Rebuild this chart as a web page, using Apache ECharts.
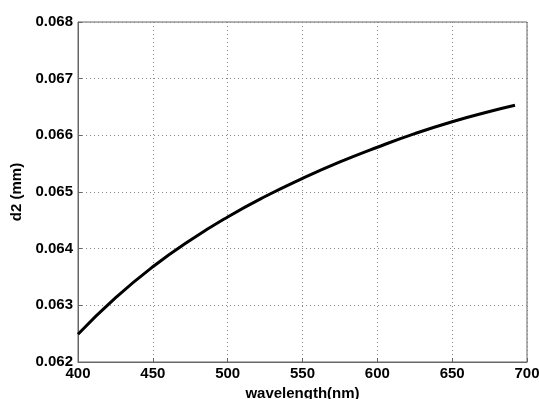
<!DOCTYPE html>
<html><head><meta charset="utf-8">
<script src="https://cdn.jsdelivr.net/npm/echarts@6/dist/echarts.min.js"></script>
<style>html,body{margin:0;padding:0;background:#fff}#c{width:539px;height:399px}</style>
</head><body><div id="c"></div>
<script>
const wavelength = [400, 425, 450, 475, 500, 525, 550, 575, 600, 625, 650, 675, 692];
const d2 = [0.06249, 0.06313, 0.06368, 0.06415, 0.06456, 0.06492, 0.06524, 0.06553, 0.06579, 0.06603, 0.06624, 0.06642, 0.06653];
const xTicks = [400, 450, 500, 550, 600, 650, 700];
const yTicks = [0.062, 0.063, 0.064, 0.065, 0.066, 0.067, 0.068];
const xLabel = 'wavelength(nm)';
const yLabel = 'd2 (mm)';

const font = {fontFamily: 'Liberation Sans, Arial, sans-serif', fontWeight: 'bold', fontSize: 15, color: '#000'};
const chart = echarts.init(document.getElementById('c'), null, {renderer: 'canvas'});
chart.setOption({
  animation: false,
  grid: {left: 78, right: 12, top: 22, bottom: 37, show: true, borderColor: '#666', borderWidth: 1,
         containLabel: false, outerBoundsMode: 'none'},
  xAxis: {
    type: 'value', min: xTicks[0], max: xTicks[xTicks.length-1], interval: 50,
    name: xLabel, nameLocation: 'middle', nameGap: 19,
    nameTextStyle: Object.assign({}, font),
    axisLine: {show: true, lineStyle: {color: '#666'}},
    axisTick: {show: true, inside: true, length: 4, lineStyle: {color: '#666'}},
    axisLabel: Object.assign({margin: 4}, font),
    splitLine: {show: true, lineStyle: {type: [1, 3], color: '#888'}}
  },
  yAxis: {
    type: 'value', min: yTicks[0], max: yTicks[yTicks.length-1], interval: 0.001,
    name: yLabel, nameLocation: 'middle', nameGap: 50,
    nameTextStyle: Object.assign({}, font),
    axisLine: {show: true, lineStyle: {color: '#666'}},
    axisTick: {show: true, inside: true, length: 4, lineStyle: {color: '#666'}},
    axisLabel: Object.assign({margin: 5, formatter: v => v.toFixed(3)}, font),
    splitLine: {show: true, lineStyle: {type: [1, 3], color: '#888'}}
  },
  series: [{
    type: 'line', smooth: true, symbol: 'none',
    data: wavelength.map((w, i) => [w, d2[i]]),
    lineStyle: {color: '#000', width: 3}
  }]
});
</script></body></html>
